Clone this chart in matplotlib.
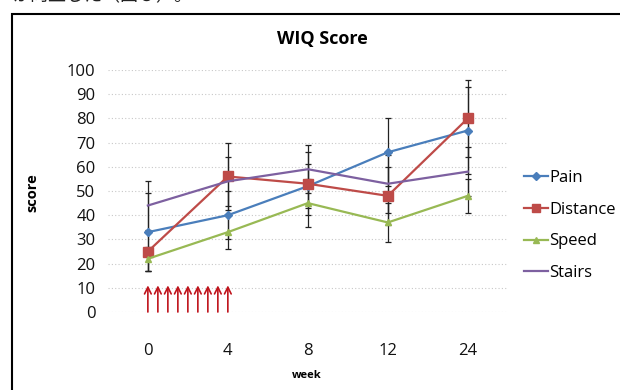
import matplotlib.pyplot as plt
from matplotlib.patches import Rectangle
import numpy as np

plt.rcParams['font.family'] = ['Open Sans', 'Noto Sans CJK JP', 'DejaVu Sans']

weeks = ['0', '4', '8', '12', '24']
series = ['Pain', 'Distance', 'Speed', 'Stairs']
means = {
    'Pain':     [33, 40, 52, 66, 75],
    'Distance': [25, 56, 53, 48, 80],
    'Speed':    [22, 33, 45, 37, 48],
    'Stairs':   [44, 54, 59, 53, 58],
}
errors = {
    'Pain':     [16, 10, 9, 14, 18],
    'Distance': [8, 14, 13, 12, 16],
    'Speed':    [5, 7, 10, 8, 7],
    'Stairs':   [10, 10, 10, 12, 10],
}
# injections during the first four weeks
dose_weeks = [0, 0.5, 1, 1.5, 2, 2.5, 3, 3.5, 4]

colors = {'Pain': '#4a7ebb', 'Distance': '#be4b48', 'Speed': '#98b954', 'Stairs': '#7d60a0'}
markers = {'Pain': 'D', 'Distance': 's', 'Speed': '^', 'Stairs': None}
msizes = {'Pain': 4.5, 'Distance': 7, 'Speed': 5, 'Stairs': 0}

fig = plt.figure(figsize=(6.2, 3.9), dpi=100)
ax = fig.add_axes([0.174, 0.2, 0.645, 0.6205])

x = np.arange(len(weeks))
for name in series:
    ax.errorbar(x, means[name], yerr=errors[name], fmt='none', ecolor='#222222',
                elinewidth=0.9, capsize=2.5, capthick=0.9, zorder=2)
for name in series:
    ax.plot(x, means[name], color=colors[name], lw=1.6, marker=markers[name],
            markersize=msizes[name], label=name, zorder=3)

# map dose weeks onto the category positions 0..1 (week 0 to week 4)
for w in dose_weeks:
    xp = w / 4.0
    ax.annotate('', xy=(xp, 11), xytext=(xp, 0),
                arrowprops=dict(arrowstyle='->', color='#c0141c', lw=1.2,
                                mutation_scale=12, shrinkA=0, shrinkB=0))

ax.set_xlim(-0.5, len(weeks) - 0.5)
ax.set_ylim(0, 100)
ax.set_yticks(range(0, 101, 10))
ax.set_xticks(x)
ax.set_xticklabels(weeks)
ax.grid(axis='y', color='#c8c8c8', linestyle=(0, (1, 2)), lw=0.8)
ax.set_axisbelow(True)
for s in ax.spines.values():
    s.set_visible(False)
ax.tick_params(axis='both', length=0, labelsize=12, colors='#111111')
ax.tick_params(axis='x', pad=22)
ax.tick_params(axis='y', pad=9)

fig.text(0.52, 0.9, 'WIQ Score', ha='center', va='center', fontsize=13, fontweight='bold')
fig.text(0.052, 0.507, 'score', ha='center', va='center', rotation=90,
         fontsize=10.5, fontweight='bold')
fig.text(0.494, 0.038, 'week', ha='center', va='center', fontsize=8, fontweight='bold')

ax.legend(loc='center left', bbox_to_anchor=(0.835, 0.422), bbox_transform=fig.transFigure,
          frameon=False, fontsize=12, handlelength=1.4, handletextpad=0.1,
          labelspacing=0.95, borderaxespad=0, markerscale=0.8)

# chart frame, running off the page to the right and bottom
fig.patches.append(Rectangle((12 / 620, -0.1), 1.2, 1.1 - 14 / 390, transform=fig.transFigure,
                             fill=False, edgecolor='black', lw=1.5))
fig.text(0.02, 1.009, 'が向上した（図５）。', ha='left', va='center', fontsize=13, color='#222222')

fig.savefig('out.png', dpi=100)
